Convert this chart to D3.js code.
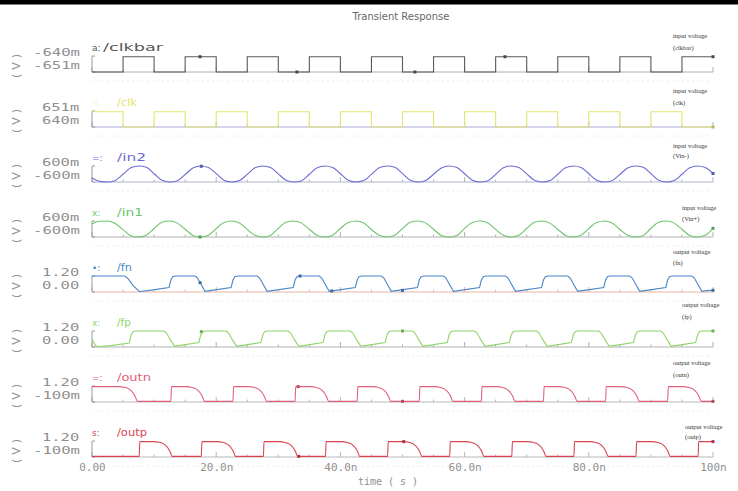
<!DOCTYPE html>
<html>
<head>
<meta charset="utf-8">
<script src="https://cdn.jsdelivr.net/npm/d3@7"></script>
<style>
  body { margin: 0; background: #fff; }
  svg { display: block; }
</style>
</head>
<body>
<div id="chart"></div>
<script>
// DATA =========================================
const traceNames = ["/clkbar", "/clk", "/in2", "/in1", "/fn", "/fp", "/outn", "/outp"];
const traceSymbols = ["a", "\u00b7", "=", "x", "\u2022", "x", "=", "s"];
const yTopVals = [-0.640, 0.651, 0.6, 0.6, 1.2, 1.2, 1.2, 1.2];
const yBotVals = [-0.651, 0.640, -0.6, -0.6, 0, 0, -0.1, -0.1];
const yTopLabels = ["-640m", "651m", "600m", "600m", "1.20", "1.20", "1.20", "1.20"];
const yBotLabels = ["-651m", "640m", "-600m", "-600m", "0.00", "0.00", "-100m", "-100m"];
const noteLine1 = ["input voltage", "input voltage", "input voltage", "input voltage",
                   "output voltage", "output voltage", "output voltage", "output voltage"];
const noteLine2 = ["(clkbar)", "(clk)", "(Vin-)", "(Vin+)", "(fn)", "(fp)", "(outn)", "(outp)"];
const xTickVals = [0, 20, 40, 60, 80, 100];
const xTickLabels = ["0.00", "20.0n", "40.0n", "60.0n", "80.0n", "100n"];

// square clocks (step after)
const clkbarPts = [[0,-0.651],[5,-0.6405],[10,-0.651],[15,-0.6405],[20,-0.651],[25,-0.6405],[30,-0.651],
  [35,-0.6405],[40,-0.651],[45,-0.6405],[50,-0.651],[55,-0.6405],[60,-0.651],[65,-0.6405],[70,-0.651],
  [75,-0.6405],[80,-0.651],[85,-0.6405],[90,-0.651],[95,-0.6405],[100,-0.6405]];
const clkPts = [[0,0.6505],[5,0.640],[10,0.6505],[15,0.640],[20,0.6505],[25,0.640],[30,0.6505],
  [35,0.640],[40,0.6505],[45,0.640],[50,0.6505],[55,0.640],[60,0.6505],[65,0.640],[70,0.6505],
  [75,0.640],[80,0.6505],[85,0.640],[90,0.6505],[95,0.640],[100,0.640]];

// sampled inputs
const tGrid = [0,1.25,2.5,3.75,5,6.25,7.5,8.75, 10,11.25,12.5,13.75,15,16.25,17.5,18.75,
  20,21.25,22.5,23.75,25,26.25,27.5,28.75, 30,31.25,32.5,33.75,35,36.25,37.5,38.75,
  40,41.25,42.5,43.75,45,46.25,47.5,48.75, 50,51.25,52.5,53.75,55,56.25,57.5,58.75,
  60,61.25,62.5,63.75,65,66.25,67.5,68.75, 70,71.25,72.5,73.75,75,76.25,77.5,78.75,
  80,81.25,82.5,83.75,85,86.25,87.5,88.75, 90,91.25,92.5,93.75,95,96.25,97.5,98.75, 100];
const in2Vals = [-0.30,-0.55,-0.60,-0.48,-0.02,0.46,0.60,0.50,
  0.02,-0.47,-0.60,-0.50,-0.04,0.45,0.60,0.49,
  0.03,-0.46,-0.60,-0.49,-0.03,0.47,0.60,0.48,
  0.01,-0.47,-0.60,-0.50,-0.02,0.46,0.60,0.49,
  0.02,-0.46,-0.60,-0.49,-0.03,0.46,0.60,0.50,
  0.03,-0.47,-0.60,-0.48,-0.02,0.45,0.60,0.49,
  0.02,-0.46,-0.60,-0.50,-0.03,0.47,0.60,0.48,
  0.01,-0.47,-0.60,-0.49,-0.02,0.46,0.60,0.49,
  0.02,-0.46,-0.60,-0.50,-0.04,0.45,0.60,0.50,
  0.03,-0.47,-0.60,-0.49,-0.02,0.46,0.60,0.49, 0.04];
const in1Vals = [0.40,0.58,0.60,0.42,-0.05,-0.50,-0.60,-0.46,
  0.04,0.50,0.60,0.44,-0.02,-0.48,-0.60,-0.47,
  0.03,0.49,0.60,0.45,-0.03,-0.47,-0.60,-0.48,
  0.05,0.50,0.60,0.44,-0.02,-0.48,-0.60,-0.46,
  0.04,0.49,0.60,0.45,-0.04,-0.47,-0.60,-0.47,
  0.03,0.50,0.60,0.44,-0.02,-0.48,-0.60,-0.48,
  0.05,0.49,0.60,0.45,-0.03,-0.47,-0.60,-0.46,
  0.04,0.50,0.60,0.44,-0.02,-0.48,-0.60,-0.47,
  0.03,0.49,0.60,0.45,-0.04,-0.47,-0.60,-0.48,
  0.04,0.50,0.60,0.44,-0.02,-0.48,-0.60,-0.47, 0.05];

// comparator nodes
const fnPts = [[0,1.2],[5.3,1.2],[5.8,1.0],[6.6,0.5],[7.6,0.04],[9,0.1],
  [12.4,0.33],[12.7,0.9],[13,1.15],[13.4,1.2],[16.6,1.2],[17,1.05],[17.6,0.55],[18.2,0.05],[19,0.1],
  [22.4,0.33],[22.7,0.9],[23,1.15],[23.4,1.2],[26.6,1.2],[27,1.05],[27.6,0.55],[28.2,0.05],[29,0.1],
  [32.4,0.33],[32.7,0.9],[33,1.15],[33.4,1.2],[36.6,1.2],[37,1.05],[37.6,0.55],[38.2,0.05],[39,0.1],
  [42.4,0.33],[42.7,0.9],[43,1.15],[43.4,1.2],[46.6,1.2],[47,1.05],[47.6,0.55],[48.2,0.05],[49,0.1],
  [52.4,0.33],[52.7,0.9],[53,1.15],[53.4,1.2],[56.6,1.2],[57,1.05],[57.6,0.55],[58.2,0.05],[59,0.1],
  [62.4,0.33],[62.7,0.9],[63,1.15],[63.4,1.2],[66.6,1.2],[67,1.05],[67.6,0.55],[68.2,0.05],[69,0.1],
  [72.4,0.33],[72.7,0.9],[73,1.15],[73.4,1.2],[76.6,1.2],[77,1.05],[77.6,0.55],[78.2,0.05],[79,0.1],
  [82.4,0.33],[82.7,0.9],[83,1.15],[83.4,1.2],[86.6,1.2],[87,1.05],[87.6,0.55],[88.2,0.05],[89,0.1],
  [92.4,0.33],[92.7,0.9],[93,1.15],[93.4,1.2],[96.6,1.2],[97,1.05],[97.6,0.55],[98.2,0.05],[99,0.1],[100,0.13]];
const fpPts = [[0,0.6],[0.6,0.1],[1.2,0.04],[3,0.1],[6.0,0.3],[6.3,0.9],[6.6,1.15],[7,1.2],
  [11.6,1.2],[12,1.05],[12.6,0.55],[13.3,0.05],[14,0.1],
  [17.2,0.33],[17.5,0.9],[17.8,1.15],[18.2,1.2],[21.6,1.2],[22,1.05],[22.6,0.55],[23.3,0.05],[24,0.1],
  [27.2,0.33],[27.5,0.9],[27.8,1.15],[28.2,1.2],[31.6,1.2],[32,1.05],[32.6,0.55],[33.3,0.05],[34,0.1],
  [37.2,0.33],[37.5,0.9],[37.8,1.15],[38.2,1.2],[41.6,1.2],[42,1.05],[42.6,0.55],[43.3,0.05],[44,0.1],
  [47.2,0.33],[47.5,0.9],[47.8,1.15],[48.2,1.2],[51.6,1.2],[52,1.05],[52.6,0.55],[53.3,0.05],[54,0.1],
  [57.2,0.33],[57.5,0.9],[57.8,1.15],[58.2,1.2],[61.6,1.2],[62,1.05],[62.6,0.55],[63.3,0.05],[64,0.1],
  [67.2,0.33],[67.5,0.9],[67.8,1.15],[68.2,1.2],[71.6,1.2],[72,1.05],[72.6,0.55],[73.3,0.05],[74,0.1],
  [77.2,0.33],[77.5,0.9],[77.8,1.15],[78.2,1.2],[81.6,1.2],[82,1.05],[82.6,0.55],[83.3,0.05],[84,0.1],
  [87.2,0.33],[87.5,0.9],[87.8,1.15],[88.2,1.2],[91.6,1.2],[92,1.05],[92.6,0.55],[93.3,0.05],[94,0.1],
  [97.2,0.33],[97.5,0.9],[97.8,1.15],[98.2,1.2],[100,1.2]];

// outputs
const outnPts = [[0,1.15],[4.3,1.15],[5.2,1.1],[6.0,0.95],[6.6,0.65],[7.0,0.3],[7.3,-0.05],
  [12.7,-0.05],[12.8,1.15],[15.2,1.15],[16,1.1],[16.8,0.95],[17.4,0.65],[17.8,0.3],[18.1,-0.05],
  [22.7,-0.05],[22.8,1.15],[25.2,1.15],[26,1.1],[26.8,0.95],[27.4,0.65],[27.8,0.3],[28.1,-0.05],
  [32.7,-0.05],[32.8,1.15],[35.2,1.15],[36,1.1],[36.8,0.95],[37.4,0.65],[37.8,0.3],[38.1,-0.05],
  [42.7,-0.05],[42.8,1.15],[45.2,1.15],[46,1.1],[46.8,0.95],[47.4,0.65],[47.8,0.3],[48.1,-0.05],
  [52.7,-0.05],[52.8,1.15],[55.2,1.15],[56,1.1],[56.8,0.95],[57.4,0.65],[57.8,0.3],[58.1,-0.05],
  [62.7,-0.05],[62.8,1.15],[65.2,1.15],[66,1.1],[66.8,0.95],[67.4,0.65],[67.8,0.3],[68.1,-0.05],
  [72.7,-0.05],[72.8,1.15],[75.2,1.15],[76,1.1],[76.8,0.95],[77.4,0.65],[77.8,0.3],[78.1,-0.05],
  [82.7,-0.05],[82.8,1.15],[85.2,1.15],[86,1.1],[86.8,0.95],[87.4,0.65],[87.8,0.3],[88.1,-0.05],
  [92.7,-0.05],[92.8,1.15],[95.2,1.15],[96,1.1],[96.8,0.95],[97.4,0.65],[97.8,0.3],[98.1,-0.05],[100,-0.05]];
const outpPts = [[0,-0.05],[7.6,-0.05],[7.7,1.15],[9.8,1.15],[10.8,1.1],[11.6,0.95],[12.2,0.65],[12.6,0.3],[12.9,-0.05],
  [17.6,-0.05],[17.7,1.15],[20.2,1.15],[21,1.1],[21.8,0.95],[22.4,0.65],[22.8,0.3],[23.1,-0.05],
  [27.6,-0.05],[27.7,1.15],[30.2,1.15],[31,1.1],[31.8,0.95],[32.4,0.65],[32.8,0.3],[33.1,-0.05],
  [37.6,-0.05],[37.7,1.15],[40.2,1.15],[41,1.1],[41.8,0.95],[42.4,0.65],[42.8,0.3],[43.1,-0.05],
  [47.6,-0.05],[47.7,1.15],[50.2,1.15],[51,1.1],[51.8,0.95],[52.4,0.65],[52.8,0.3],[53.1,-0.05],
  [57.6,-0.05],[57.7,1.15],[60.2,1.15],[61,1.1],[61.8,0.95],[62.4,0.65],[62.8,0.3],[63.1,-0.05],
  [67.6,-0.05],[67.7,1.15],[70.2,1.15],[71,1.1],[71.8,0.95],[72.4,0.65],[72.8,0.3],[73.1,-0.05],
  [77.6,-0.05],[77.7,1.15],[80.2,1.15],[81,1.1],[81.8,0.95],[82.4,0.65],[82.8,0.3],[83.1,-0.05],
  [87.6,-0.05],[87.7,1.15],[90.2,1.15],[91,1.1],[91.8,0.95],[92.4,0.65],[92.8,0.3],[93.1,-0.05],
  [97.6,-0.05],[97.7,1.15],[100,1.15]];

// marker points on each trace
const clkbarMarks = [[17.4,-0.6405],[33,-0.651],[52,-0.651],[66.5,-0.6405],[100,-0.6405]];
const clkMarks = [[100,0.640]];
const in2Marks = [[17.6,0.58],[100,0.04]];
const in1Marks = [[17.4,-0.6],[100,0.05]];
const fnMarks = [[17.4,0.7],[33.5,1.2],[38.6,0.08],[50,0.12],[100,0.13]];
const fpMarks = [[17.6,1.15],[50,1.2],[100,1.2]];
const outnMarks = [[33.2,1.15],[50,-0.05],[100,-0.05]];
const outpMarks = [[33.3,-0.05],[50.2,1.15],[100,1.15]];

// LAYOUT =======================================
const width = 738, height = 491;
const plotLeft = 92, plotRight = 713;
const firstBottom = 72, pitch = 55, panelH = 16;
const labelCharW = 9.8;

const traceColors = ["#595959", "#e4e46e", "#6b6bd6", "#6cc46c", "#4a86c8", "#8fd46a", "#e0607a", "#d9434f"];
const baseColors = ["#b0b0b0", "#a9a9d9", "#b4b4c8", "#b0b0b0", "#e6b4a4", "#b0b0b0", "#b8b8b8", "#b8b8b8"];
const nameX = [103, 117, 117, 117, 117, 117, 117, 117];
const nameLen = [60, 20, 29, 26, 15, 14, 34, 30];
const noteX = [673, 673, 673, 682, 673, 682, 673, 685];
const noteY = [38, 93, 148, 210, 254, 307, 365, 429];
const noteGap = [12, 12, 10, 11, 11, 12, 12, 10];

const traces = [
  { pts: clkbarPts, marks: clkbarMarks, curve: d3.curveStepAfter },
  { pts: clkPts, marks: clkMarks, curve: d3.curveStepAfter },
  { pts: d3.zip(tGrid, in2Vals), marks: in2Marks, curve: d3.curveMonotoneX },
  { pts: d3.zip(tGrid, in1Vals), marks: in1Marks, curve: d3.curveMonotoneX },
  { pts: fnPts, marks: fnMarks, curve: d3.curveLinear },
  { pts: fpPts, marks: fpMarks, curve: d3.curveLinear },
  { pts: outnPts, marks: outnMarks, curve: d3.curveMonotoneX },
  { pts: outpPts, marks: outpMarks, curve: d3.curveMonotoneX }
];

const svg = d3.select("#chart")
  .append("svg")
  .attr("width", width)
  .attr("height", height);

svg.append("rect").attr("width", width).attr("height", height).attr("fill", "#fff");
svg.append("rect").attr("width", width).attr("height", 4.5).attr("fill", "#000");

svg.append("text")
  .attr("x", 401).attr("y", 20)
  .attr("text-anchor", "middle")
  .style("font-family", "'DejaVu Sans', sans-serif")
  .style("font-size", "10px")
  .attr("fill", "#666")
  .text("Transient Response");

// SCALES =======================================
const xScale = d3.scaleLinear().domain([0, 100]).range([plotLeft, plotRight]);
const minorTicks = xScale.ticks(25);

// PANELS =======================================
traces.forEach((tr, i) => {
  const bottom = firstBottom + i * pitch;
  const top = bottom - panelH;
  const yScale = d3.scaleLinear().domain([yBotVals[i], yTopVals[i]]).range([bottom, top]);
  const g = svg.append("g").attr("class", "panel");

  // faint guide below the strip
  g.append("line")
    .attr("x1", plotLeft).attr("x2", plotRight)
    .attr("y1", bottom + 9).attr("y2", bottom + 9)
    .attr("stroke", "#ececec").attr("stroke-dasharray", "2,3");

  // baseline + ticks
  g.append("line")
    .attr("x1", plotLeft).attr("x2", plotRight)
    .attr("y1", bottom).attr("y2", bottom)
    .attr("stroke", baseColors[i]).attr("stroke-width", 1);

  g.selectAll("line.tick")
    .data(minorTicks)
    .join("line")
    .attr("class", "tick")
    .attr("x1", d => xScale(d)).attr("x2", d => xScale(d))
    .attr("y1", bottom)
    .attr("y2", d => bottom - (d % 20 === 0 ? 5 : 2.5))
    .attr("stroke", baseColors[i]);

  // bracket at left
  g.append("path")
    .attr("d", `M${plotLeft + 3},${top}H${plotLeft}V${bottom}H${plotLeft + 3}`)
    .attr("fill", "none").attr("stroke", "#9a9a9a");

  // trace
  const line = d3.line()
    .x(d => xScale(d[0]))
    .y(d => yScale(d[1]))
    .curve(tr.curve);

  g.append("path")
    .datum(tr.pts)
    .attr("d", line)
    .attr("fill", "none")
    .attr("stroke", traceColors[i])
    .attr("stroke-width", 1.1);

  g.selectAll("rect.mark")
    .data(tr.marks)
    .join("rect")
    .attr("class", "mark")
    .attr("x", d => xScale(d[0]) - 1.5)
    .attr("y", d => yScale(d[1]) - 1.5)
    .attr("width", 3).attr("height", 3)
    .attr("fill", d3.color(traceColors[i]).darker(0.6));

  // y labels (wide fixed-width glyphs)
  const labelStyle = (sel, txt) => sel
    .attr("textLength", txt.length * labelCharW - 2)
    .attr("lengthAdjust", "spacingAndGlyphs")
    .style("font-family", "'DejaVu Sans Mono', monospace")
    .style("font-size", "11px")
    .attr("fill", "#909090");

  g.append("text")
    .attr("x", yTopLabels[i].startsWith("-") ? 33 : 42)
    .attr("y", bottom - 16)
    .call(labelStyle, yTopLabels[i])
    .text(yTopLabels[i]);

  g.append("text")
    .attr("x", yBotLabels[i].startsWith("-") ? 33 : 42)
    .attr("y", bottom - 3.5)
    .call(labelStyle, yBotLabels[i])
    .text(yBotLabels[i]);

  g.append("text")
    .attr("transform", `translate(16, ${bottom - 8}) rotate(-90)`)
    .attr("text-anchor", "middle")
    .attr("dy", "0.35em")
    .style("font-family", "'DejaVu Sans', sans-serif")
    .style("font-size", "11px")
    .style("letter-spacing", "4px")
    .attr("fill", "#909090")
    .text("(V)");

  // trace name
  g.append("text")
    .attr("x", plotLeft).attr("y", bottom - 21)
    .style("font-family", "'DejaVu Sans', sans-serif")
    .style("font-size", "9px")
    .attr("fill", traceColors[i])
    .text(traceSymbols[i] + ":");

  g.append("text")
    .attr("x", nameX[i]).attr("y", bottom - 21)
    .attr("textLength", nameLen[i])
    .attr("lengthAdjust", "spacingAndGlyphs")
    .style("font-family", "'DejaVu Sans', sans-serif")
    .style("font-size", "10px")
    .attr("fill", traceColors[i])
    .text(traceNames[i]);

  // right-hand note
  const note = svg.append("text")
    .style("font-family", "'Liberation Serif', 'DejaVu Serif', serif")
    .style("font-size", "6.5px")
    .attr("fill", "#333");
  note.append("tspan").attr("x", noteX[i]).attr("y", noteY[i]).text(noteLine1[i]);
  note.append("tspan").attr("x", noteX[i]).attr("y", noteY[i] + noteGap[i]).text(noteLine2[i]);
});

// X AXIS =======================================
const xAxis = d3.axisBottom(xScale)
  .tickValues(xTickVals)
  .tickFormat((d, i) => xTickLabels[i])
  .tickSize(0)
  .tickPadding(3);

const axisG = svg.append("g")
  .attr("transform", `translate(0, ${firstBottom + 7 * pitch + 3})`)
  .call(xAxis);

axisG.select(".domain").remove();
axisG.selectAll("text")
  .style("font-family", "'DejaVu Sans Mono', monospace")
  .style("font-size", "11px")
  .attr("fill", "#909090");

svg.append("text")
  .attr("x", 388).attr("y", 485)
  .attr("text-anchor", "middle")
  .style("font-family", "'DejaVu Sans Mono', monospace")
  .style("font-size", "10px")
  .attr("fill", "#909090")
  .text("time ( s )");
</script>
</body>
</html>
